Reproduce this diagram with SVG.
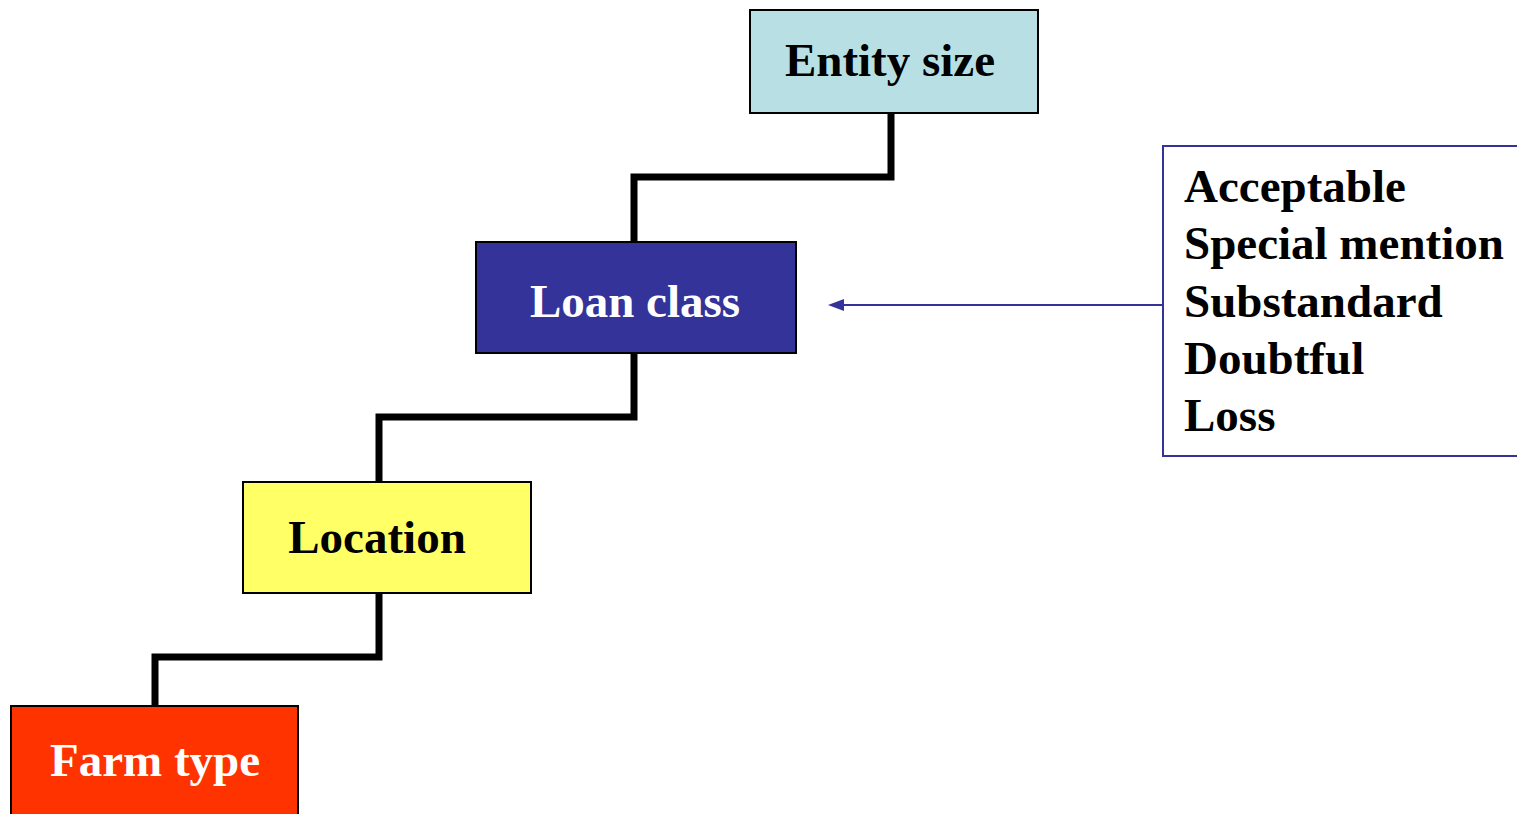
<svg xmlns="http://www.w3.org/2000/svg" width="1517" height="814" viewBox="0 0 1517 814">
<defs>
<style>
.box{stroke:#000;stroke-width:2}
.t{font-family:"Liberation Serif","Times New Roman",serif;font-weight:bold;font-size:47px}
.c{text-anchor:middle}
.conn{fill:none;stroke:#000;stroke-width:7;stroke-linejoin:miter}
</style>
<marker id="ah" viewBox="0 0 10 10" refX="0" refY="5" markerWidth="16" markerHeight="10" markerUnits="userSpaceOnUse" orient="auto">
<path d="M0,5 L10,0 L10,10 Z" fill="#333399"/>
</marker>
</defs>
<rect width="1517" height="814" fill="#fff"/>
<g id="connectors">
<path class="conn" d="M891,113 V177 H634 V242"/>
<path class="conn" d="M634,353 V417 H379 V482"/>
<path class="conn" d="M379,593 V657 H155 V706"/>
<path d="M1162,305 H842" stroke="#333399" stroke-width="2" fill="none"/>
<path d="M828,305 L844,299 L844,311 Z" fill="#333399"/>
</g>
<g id="entity-size">
<rect class="box" x="750" y="10" width="288" height="103" fill="#B8E0E4"/>
<text class="t c" x="890" y="76">Entity size</text>
</g>
<g id="loan-class">
<rect class="box" x="476" y="242" width="320" height="111" fill="#333399"/>
<text class="t c" x="635" y="317" fill="#fff">Loan class</text>
</g>
<g id="location">
<rect class="box" x="243" y="482" width="288" height="111" fill="#FFFF66"/>
<text class="t c" x="377" y="553">Location</text>
</g>
<g id="farm-type">
<rect class="box" x="11" y="706" width="287" height="112" fill="#FF3300"/>
<text class="t c" x="155" y="776" fill="#fff">Farm type</text>
</g>
<g id="loan-classes">
<rect x="1163" y="146" width="360" height="310" fill="#fff" stroke="#333399" stroke-width="2"/>
<text class="t" x="1184" y="202">Acceptable</text>
<text class="t" x="1184" y="259">Special mention</text>
<text class="t" x="1184" y="317">Substandard</text>
<text class="t" x="1184" y="374">Doubtful</text>
<text class="t" x="1184" y="431">Loss</text>
</g>
</svg>
